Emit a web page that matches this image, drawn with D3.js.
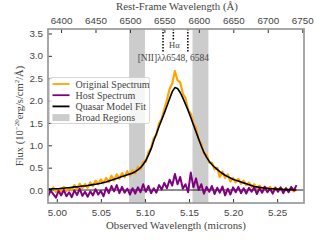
<!DOCTYPE html>
<html>
<head>
<meta charset="utf-8">
<script src="https://cdn.jsdelivr.net/npm/d3@7"></script>
<style>
  body { margin: 0; background: #fff; }
  svg { display: block; font-family: "Liberation Serif", "DejaVu Serif", serif; }
</style>
</head>
<body>
<svg></svg>
<script>
// observed wavelength grid (microns)
var wave = [4.990, 4.993, 4.996, 4.999, 5.002, 5.005, 5.008, 5.011, 5.014, 5.017,
  5.020, 5.023, 5.026, 5.029, 5.032, 5.035, 5.038, 5.041, 5.044, 5.047,
  5.050, 5.053, 5.056, 5.059, 5.062, 5.065, 5.068, 5.071, 5.074, 5.077,
  5.080, 5.083, 5.086, 5.089, 5.092, 5.095, 5.098, 5.101, 5.104, 5.107,
  5.110, 5.113, 5.116, 5.119, 5.122, 5.125, 5.128, 5.131, 5.134, 5.137,
  5.140, 5.143, 5.146, 5.149, 5.152, 5.155, 5.158, 5.161, 5.164, 5.167,
  5.170, 5.173, 5.176, 5.179, 5.182, 5.185, 5.188, 5.191, 5.194, 5.197,
  5.200, 5.203, 5.206, 5.209, 5.212, 5.215, 5.218, 5.221, 5.224, 5.227,
  5.230, 5.233, 5.236, 5.239, 5.242, 5.245, 5.248, 5.251, 5.254, 5.257,
  5.260, 5.263, 5.266, 5.269, 5.272];

var original = [0.04, -0.03, 0.06, -0.04, 0.02, -0.05, 0.07, -0.02, 0.05, -0.01,
  0.11, 0.02, 0.14, 0.04, 0.13, 0.05, 0.17, 0.09, 0.21, 0.13,
  0.24, 0.15, 0.27, 0.18, 0.32, 0.21, 0.35, 0.25, 0.38, 0.29,
  0.42, 0.32, 0.44, 0.37, 0.52, 0.46, 0.63, 0.63, 0.85, 0.94,
  1.16, 1.23, 1.49, 1.59, 1.81, 2.01, 2.26, 2.38, 2.66, 2.45,
  2.41, 2.15, 2.06, 1.79, 1.71, 1.49, 1.39, 1.11, 1.03, 0.81,
  0.79, 0.61, 0.61, 0.46, 0.50, 0.29, 0.41, 0.27, 0.35, 0.19,
  0.27, 0.17, 0.25, 0.14, 0.21, 0.11, 0.17, 0.07, 0.13, 0.04,
  0.10, 0.02, 0.08, 0.01, 0.07, 0.00, 0.06, -0.02, 0.05, -0.01,
  0.04, -0.02, 0.03, -0.03, 0.02];

var host = [-0.14, -0.01, -0.09, -0.17, -0.02, -0.12, 0.00, -0.14, -0.05, -0.16,
  -0.01, -0.11, 0.03, -0.13, -0.04, -0.15, -0.03, -0.12, 0.02, -0.10,
  -0.02, -0.14, 0.05, -0.07, 0.09, -0.03, 0.11, -0.07, 0.07, -0.06,
  0.03, -0.10, 0.04, -0.08, 0.06, -0.05, 0.13, -0.04, 0.09, -0.07,
  0.04, -0.06, 0.11, 0.01, 0.16, 0.04, 0.23, 0.10, 0.36, 0.13,
  0.29, 0.03, 0.13, -0.05, 0.39, 0.06, 0.26, 0.00, 0.13, -0.08,
  0.07, -0.04, 0.09, -0.09, 0.05, -0.06, 0.08, -0.12, 0.03, -0.10,
  0.06, -0.05, 0.07, -0.07, 0.04, -0.08, 0.05, -0.04, 0.06, -0.09,
  0.04, -0.06, 0.07, -0.05, 0.03, -0.08, 0.05, -0.04, 0.06, -0.07,
  0.04, -0.05, 0.07, -0.01, 0.11];

var model = [0.02, 0.02, 0.03, 0.03, 0.03, 0.04, 0.04, 0.05, 0.05, 0.06,
  0.07, 0.07, 0.08, 0.09, 0.09, 0.10, 0.11, 0.12, 0.13, 0.14,
  0.15, 0.17, 0.18, 0.20, 0.22, 0.24, 0.26, 0.28, 0.30, 0.32,
  0.34, 0.36, 0.38, 0.41, 0.45, 0.50, 0.57, 0.66, 0.78, 0.92,
  1.10, 1.26, 1.42, 1.57, 1.72, 1.88, 2.04, 2.20, 2.29, 2.27,
  2.18, 2.06, 1.92, 1.78, 1.62, 1.46, 1.30, 1.14, 0.98, 0.84,
  0.73, 0.64, 0.57, 0.51, 0.46, 0.41, 0.37, 0.33, 0.30, 0.27,
  0.24, 0.22, 0.20, 0.18, 0.16, 0.14, 0.12, 0.10, 0.08, 0.07,
  0.06, 0.05, 0.04, 0.04, 0.03, 0.03, 0.02, 0.02, 0.02, 0.01,
  0.01, 0.01, 0.01, 0.00, 0.00];

var broadRegions = [[5.082, 5.100], [5.154, 5.172]];
var lineRest = [6548, 6563, 6584];
var zFactor = 7.82;   // 1 + z

var xTicks = [5.00, 5.05, 5.10, 5.15, 5.20, 5.25];
var yTicks = [0.0, 0.5, 1.0, 1.5, 2.0, 2.5, 3.0, 3.5];
var restTicks = [6400, 6450, 6500, 6550, 6600, 6650, 6700, 6750];

var legendItems = [
  {label: 'Original Spectrum', color: 'orange', kind: 'line'},
  {label: 'Host Spectrum', color: 'purple', kind: 'line'},
  {label: 'Quasar Model Fit', color: 'black', kind: 'line'},
  {label: 'Broad Regions', color: 'gray', kind: 'patch'}
];

var width = 320;
var height = 240;
var padL = 48, padR = 304, padT = 29, padB = 203;
var textColor = '#444';
var spineColor = '#999';

var xScale = d3.scaleLinear()
                  .domain([4.99, 5.2805])
                  .range([padL, padR])

var yScale = d3.scaleLinear()
                  .domain([-0.29, 3.6])
                  .range([padB, padT])

var restScale = d3.scaleLinear()
                  .domain(xScale.domain().map(d => d / zFactor * 1e4))
                  .range([padL, padR])

var svg = d3.select('svg')
              .attr('width', width)
              .attr('height', height)

svg.append('defs').append('clipPath').attr('id', 'clip')
  .append('rect')
    .attr('x', padL).attr('y', padT)
    .attr('width', padR - padL).attr('height', padB - padT)

var plot = svg.append('g').attr('clip-path', 'url(#clip)')

// broad regions
plot.selectAll('rect.band')
  .data(broadRegions)
  .enter()
  .append('rect')
    .attr('class', 'band')
    .attr('x', d => xScale(d[0]))
    .attr('width', d => xScale(d[1]) - xScale(d[0]))
    .attr('y', padT)
    .attr('height', padB - padT)
    .attr('fill', 'gray')
    .attr('fill-opacity', 0.4)

// zero line
plot.append('line')
  .attr('x1', padL).attr('x2', padR)
  .attr('y1', yScale(0)).attr('y2', yScale(0))
  .attr('stroke', 'black')
  .attr('stroke-width', 0.9)

var series = [
  {values: original, color: 'orange', w: 2.2},
  {values: host, color: 'purple', w: 2.0},
  {values: model, color: 'black', w: 1.6}
];

var line = d3.line()
  .x((d, i) => xScale(wave[i]))
  .y(d => yScale(d))

plot.selectAll('path.spec')
  .data(series)
  .enter()
  .append('path')
    .attr('class', 'spec')
    .attr('d', d => line(d.values))
    .attr('fill', 'none')
    .attr('stroke', d => d.color)
    .attr('stroke-width', d => d.w)
    .attr('stroke-linejoin', 'round')

// emission line markers
svg.selectAll('line.marker')
  .data(lineRest)
  .enter()
  .append('line')
    .attr('class', 'marker')
    .attr('x1', d => restScale(d)).attr('x2', d => restScale(d))
    .attr('y1', padT)
    .attr('y2', d => d === 6563 ? 41 : 52)
    .attr('stroke', 'black')
    .attr('stroke-width', 1.5)
    .attr('stroke-dasharray', '1.4,1.6')

svg.append('text')
  .attr('x', restScale(6563) + 1)
  .attr('y', 48)
  .attr('text-anchor', 'middle')
  .attr('font-size', 8.5)
  .attr('fill', textColor)
  .text('Hα')

svg.append('text')
  .attr('x', restScale(6563))
  .attr('y', 61)
  .attr('text-anchor', 'middle')
  .attr('font-size', 9.5)
  .attr('fill', textColor)
  .text('[NII]λλ6548, 6584')

// axes
var xAxis = d3.axisBottom(xScale).tickValues(xTicks).tickFormat(d3.format('.2f')).tickSize(-4).tickPadding(6)
var yAxis = d3.axisLeft(yScale).tickValues(yTicks).tickFormat(d3.format('.1f')).tickSize(-4).tickPadding(5)
var topAxis = d3.axisTop(restScale).tickValues(restTicks).tickFormat(d3.format('d')).tickSize(-4).tickPadding(5)

svg.append('g').attr('transform', `translate(0,${padB})`).call(xAxis)
svg.append('g').attr('transform', `translate(${padL},0)`).call(yAxis)
svg.append('g').attr('transform', `translate(0,${padT})`).call(topAxis)

svg.selectAll('.tick text').attr('font-size', 9.8).attr('fill', textColor).attr('font-family', null)
svg.selectAll('.tick line').attr('stroke', '#333')
svg.selectAll('.domain').remove()

// frame
svg.append('rect')
  .attr('x', padL).attr('y', padT)
  .attr('width', padR - padL).attr('height', padB - padT)
  .attr('fill', 'none')
  .attr('stroke', spineColor)
  .attr('stroke-width', 1.7)

// axis titles
svg.append('text')
  .attr('x', (padL + padR) / 2)
  .attr('y', 229)
  .attr('text-anchor', 'middle')
  .attr('font-size', 10.8)
  .attr('fill', textColor)
  .text('Observed Wavelength (microns)')

svg.append('text')
  .attr('x', 177)
  .attr('y', 10)
  .attr('text-anchor', 'middle')
  .attr('font-size', 10.8)
  .attr('fill', textColor)
  .text('Rest-Frame Wavelength (Å)')

var ylab = svg.append('text')
  .attr('transform', `translate(23,${(padT + padB) / 2}) rotate(-90)`)
  .attr('text-anchor', 'middle')
  .attr('font-size', 10.5)
  .attr('fill', textColor)
ylab.append('tspan').text('Flux (10')
ylab.append('tspan').attr('font-size', 7).attr('dy', -4).text('−20')
ylab.append('tspan').attr('dy', 4).text('erg/s/cm')
ylab.append('tspan').attr('font-size', 7).attr('dy', -4).text('2')
ylab.append('tspan').attr('dy', 4).text('/Å)')

// legend
var legend = svg.append('g').attr('transform', 'translate(49.5,77.5)')
legend.append('rect')
  .attr('width', 100).attr('height', 46)
  .attr('rx', 2)
  .attr('fill', 'white').attr('fill-opacity', 0.8)
  .attr('stroke', '#ccc').attr('stroke-width', 0.8)

var rows = legend.selectAll('g.item')
  .data(legendItems)
  .enter()
  .append('g')
    .attr('class', 'item')
    .attr('transform', (d, i) => `translate(0,${6.5 + i * 11.2})`)

rows.filter(d => d.kind === 'line').append('line')
  .attr('x1', 3).attr('x2', 20)
  .attr('stroke', d => d.color)
  .attr('stroke-width', 1.8)

rows.filter(d => d.kind === 'patch').append('rect')
  .attr('x', 3).attr('y', -3.5)
  .attr('width', 17).attr('height', 7)
  .attr('fill', d => d.color).attr('fill-opacity', 0.4)

rows.append('text')
  .attr('x', 26)
  .attr('y', 3.5)
  .attr('font-size', 10)
  .attr('fill', textColor)
  .text(d => d.label)
</script>
</body>
</html>
